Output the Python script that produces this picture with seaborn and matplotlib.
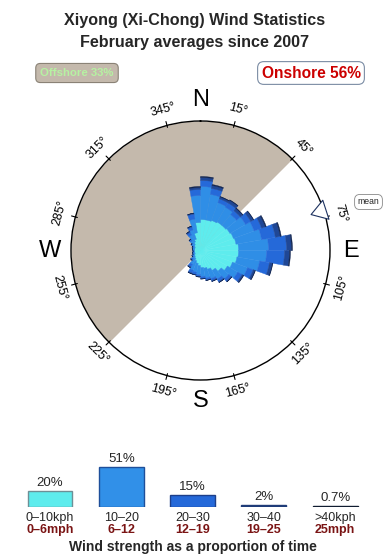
import numpy as np
import pandas as pd
import matplotlib
matplotlib.use("Agg")
import matplotlib.pyplot as plt
import seaborn as sns

sns.set_theme(style="white")
plt.rcParams['font.family'] = ['Liberation Sans', 'DejaVu Sans']

# ---------------- data ----------------
title_lines = ["Xiyong (Xi-Chong) Wind Statistics", "February averages since 2007"]
offshore_label = "Offshore 33%"
onshore_label = "Onshore 56%"
offshore_sector = [225, 405]          # compass degrees (225 -> 45 through west)
mean_direction = 72                   # compass degrees

sector_centers = list(range(5, 360, 10))
speed_0_10 = [3.1, 3.1, 3.2, 3.3, 3.3, 3.4, 3.5, 3.6, 3.8, 3.8, 3.7, 3.4, 3.1, 2.7, 2.3, 2.0,
              1.8, 1.7, 1.5, 1.3, 1.1, 0.9, 0.8, 0.7, 0.6, 0.6, 0.6, 0.6, 0.6, 0.6, 0.7, 0.8,
              1.0, 1.2, 1.8, 2.8]
speed_10_20 = [3.3, 2.6, 1.9, 1.7, 1.4, 1.8, 2.2, 2.6, 3.0, 2.8, 2.3, 1.6, 1.2, 1.0, 1.0, 1.0,
               1.0, 0.9, 0.9, 0.9, 1.0, 0.7, 0.3, 0.2, 0.2, 0.15, 0.1, 0.15, 0.2, 0.2, 0.3, 0.5,
               0.8, 1.0, 1.4, 2.7]
speed_20_30 = [0.6, 0.6, 0.4, 0.5, 0.5, 0.6, 0.8, 1.4, 1.8, 1.8, 1.0, 0.6, 0.5, 0.3, 0.3, 0.2,
               0.2, 0.2, 0.2, 0.25, 0.3, 0.3, 0.15, 0.1, 0.05, 0.05, 0.05, 0.05, 0.05, 0.1, 0.1, 0.2,
               0.3, 0.3, 0.5, 0.6]
speed_30_40 = [0.3, 0.3, 0.2, 0.3, 0.3, 0.3, 0.4, 0.5, 0.5, 0.5, 0.3, 0.2, 0.15, 0.1, 0.1, 0.1,
               0.05, 0.05, 0.05, 0.05, 0.1, 0.1, 0.05, 0.0, 0.0, 0.0, 0.0, 0.0, 0.0, 0.0, 0.0, 0.0,
               0.1, 0.1, 0.1, 0.2]
speed_over_40 = [0.1, 0.1, 0.05, 0.05, 0.05, 0.05, 0.1, 0.1, 0.1, 0.1, 0.05, 0.05, 0.05, 0.0, 0.0, 0.0,
                 0.0, 0.0, 0.0, 0.0, 0.0, 0.0, 0.0, 0.0, 0.0, 0.0, 0.0, 0.0, 0.0, 0.0, 0.0, 0.0,
                 0.0, 0.0, 0.0, 0.1]
radial_max = 12.95

compass_letters = ["N", "E", "S", "W"]
compass_angles = [0, 90, 180, 270]
tick_angles = [15, 45, 75, 105, 135, 165, 195, 225, 255, 285, 315, 345]

legend_kph = ["0\u201310kph", "10\u201320", "20\u201330", "30\u201340", ">40kph"]
legend_mph = ["0\u20136mph", "6\u201312", "12\u201319", "19\u201325", "25mph"]
legend_pct = [20, 51, 15, 2, 0.7]
legend_pct_text = ["20%", "51%", "15%", "2%", "0.7%"]

layer_colors = ["#5eeced", "#2f8ee6", "#2569d9", "#1f4796", "#0f2350"]
legend_fill = ["#5eeced", "#3190e8", "#2569d9", "#1f3c78", "#101c30"]
legend_edge = ["#6e8f96", "#1e4f9a", "#1d3f8a", "#1f3c78", "#101c30"]

# ---------------- figure ----------------
W, H = 390, 560
fig = plt.figure(figsize=(W / 100, H / 100), dpi=100)
fig.patch.set_facecolor("white")

cx, cy, R = 200.5, 250.5, 129.5
ax = fig.add_axes([(cx - R) / W, 1 - (cy + R) / H, 2 * R / W, 2 * R / H], projection="polar")
ax.set_theta_zero_location("N")
ax.set_theta_direction(-1)
ax.set_ylim(0, radial_max)
ax.set_xticks([])
ax.set_yticks([])
ax.grid(False)
ax.set_facecolor("white")
ax.spines["polar"].set_linewidth(1.0)
ax.spines["polar"].set_color("black")

# offshore half disk
th = np.radians(np.linspace(offshore_sector[0], offshore_sector[1], 300))
ax.fill_between(th, 0, radial_max, color="#c4b9ac", zorder=0.5, lw=0)

# stacked rose
theta = np.radians(sector_centers)
width = np.radians(10)
bottom = np.zeros(len(sector_centers))
for vals, col in zip([speed_0_10, speed_10_20, speed_20_30, speed_30_40, speed_over_40], layer_colors):
    v = np.array(vals)
    ax.bar(theta, v, width=width, bottom=bottom, color=col, edgecolor=col, linewidth=0.3, zorder=2)
    bottom = bottom + v

# tick marks and labels
px = radial_max / R
for a in tick_angles:
    t = np.radians(a)
    ax.plot([t, t], [radial_max - 2 * px, radial_max + 4 * px], color="black", lw=0.8,
            clip_on=False, zorder=3)
    rot = (-a + 180) % 360 - 180
    if rot > 90:
        rot -= 180
    elif rot <= -90:
        rot += 180
    ax.text(t, radial_max + 16 * px, f"{a}\u00b0", rotation=rot, rotation_mode="anchor",
            ha="center", va="center", fontsize=9, color="black", clip_on=False)

for lab, a in zip(compass_letters, compass_angles):
    ax.text(np.radians(a), radial_max + 21 * px, lab, ha="center", va="center",
            fontsize=17, color="black", clip_on=False)

# mean arrow
tm = np.radians(mean_direction)
ax.annotate("", xy=(tm, radial_max - 16 * px), xytext=(tm, radial_max + 3 * px),
            arrowprops=dict(arrowstyle="simple,head_length=0.7,head_width=0.9,tail_width=0.4",
                            mutation_scale=16, fc="white", ec="#1d3260", lw=0.8),
            annotation_clip=False)
fig.text(368.5 / W, 1 - 202 / H, "mean", fontsize=6.2, ha="center", va="center",
         bbox=dict(boxstyle="round,pad=0.35,rounding_size=0.6", fc="white", ec="#888888", lw=0.6))

# titles
fig.text(0.5, 1 - 20 / H, title_lines[0], ha="center", va="center", fontsize=11.6, fontweight="bold")
fig.text(0.5, 1 - 42 / H, title_lines[1], ha="center", va="center", fontsize=11.6, fontweight="bold")

# offshore / onshore boxes
fig.text(77 / W, 1 - 73 / H, offshore_label, ha="center", va="center", fontsize=8.2,
         fontweight="bold", color="#b6f2a2",
         bbox=dict(boxstyle="round,pad=0.4,rounding_size=0.4", fc="#c4b9ac", ec="#8a8276", lw=0.8))
fig.text(311 / W, 1 - 73 / H, onshore_label, ha="center", va="center", fontsize=11.2,
         fontweight="bold", color="#cc0000",
         bbox=dict(boxstyle="round,pad=0.25,rounding_size=0.4", fc="white", ec="#7b8ca4", lw=0.8))

# ---------------- strength legend (seaborn bars) ----------------
spacing = 71.3
lx0 = 50 - spacing / 2
base_y = 507
ymax = 60
px_per_pct = 0.78
lax = fig.add_axes([lx0 / W, 1 - base_y / H, 5 * spacing / W, ymax * px_per_pct / H])
df = pd.DataFrame({"band": legend_kph, "pct": legend_pct})
sns.barplot(data=df, x="band", y="pct", hue="band", palette=legend_fill, width=0.63,
            legend=False, ax=lax, saturation=1)
for p, ec in zip(lax.patches, legend_edge):
    p.set_edgecolor(ec)
    p.set_linewidth(1.0)
lax.set_xlim(-0.5, 4.5)
lax.set_ylim(0, ymax)
lax.axis("off")
for i, (pt, k, m, v) in enumerate(zip(legend_pct_text, legend_kph, legend_mph, legend_pct)):
    lax.annotate(pt, (i, v), xytext=(0, 1.8), textcoords="offset points", ha="center",
                 va="bottom", fontsize=9.5, annotation_clip=False)
    lax.annotate(k, (i, 0), xytext=(0, -8.2), textcoords="offset points", ha="center",
                 va="center", fontsize=9, annotation_clip=False)
    lax.annotate(m, (i, 0), xytext=(0, -16.6), textcoords="offset points", ha="center",
                 va="center", fontsize=9, fontweight="bold", color="#7a1414",
                 annotation_clip=False)

fig.text(193 / W, 1 - 546.5 / H, "Wind strength as a proportion of time", ha="center",
         va="center", fontsize=10, fontweight="bold")

fig.savefig("out.png", dpi=100, facecolor="white")
